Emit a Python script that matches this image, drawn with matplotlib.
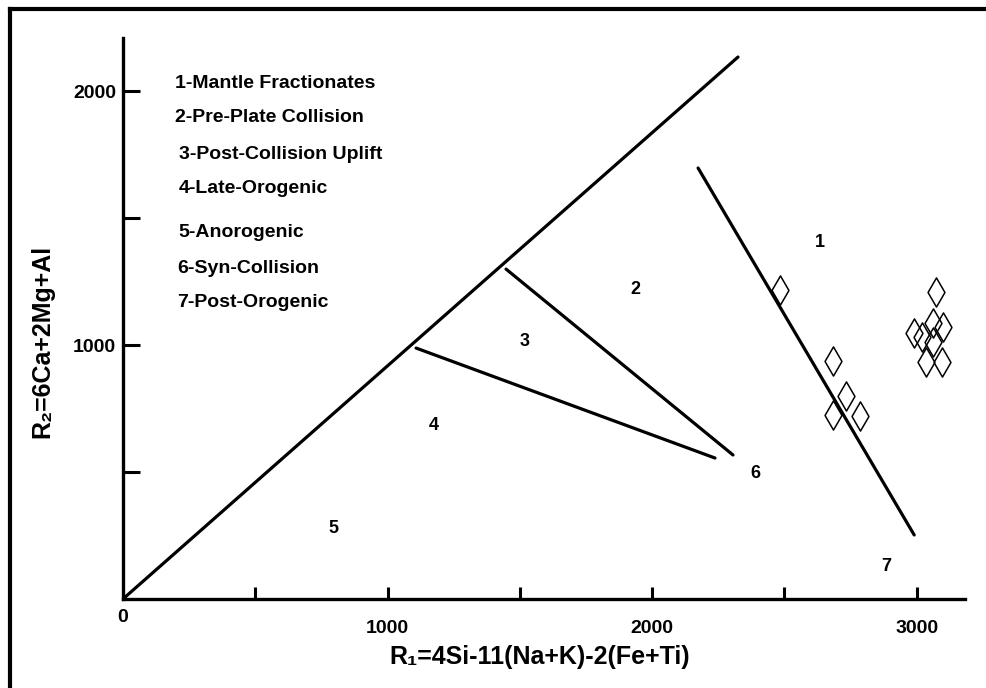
import numpy as np
import matplotlib.pyplot as plt
from matplotlib.lines import Line2D
from matplotlib.path import Path
from matplotlib.ticker import FixedLocator, FuncFormatter

plt.rcParams['font.family'] = ['Liberation Sans', 'DejaVu Sans']
plt.rcParams['font.weight'] = 'bold'

# boundary lines of the R1-R2 diagram (start / end points)
bound_x0 = [0, 1448, 1108, 2174]
bound_y0 = [0, 1299, 988, 1697]
bound_x1 = [2325, 2306, 2238, 2991]
bound_y1 = [2134, 567, 555, 252]

# sample points
r1 = [2484, 2684, 2733, 2684, 2786, 3074, 2991, 3021, 3062, 3100, 3062, 3036, 3096]
r2 = [1217, 937, 799, 724, 720, 1209, 1047, 1031, 1087, 1071, 1012, 933, 933]

# field numbers
field_names = ['1', '2', '3', '4', '5', '6', '7']
field_x = [2635, 1936, 1520, 1176, 794, 2389, 2885]
field_y = [1402, 1217, 1012, 685, 276, 496, 126]

legend_items = ['1-Mantle Fractionates', '2-Pre-Plate Collision', '3-Post-Collision Uplift',
                '4-Late-Orogenic', '5-Anorogenic', '6-Syn-Collision', '7-Post-Orogenic']
legend_y = [2031, 1894, 1752, 1618, 1445, 1303, 1169]
legend_x = [197, 197, 212, 212, 208, 204, 204]

x_ticks = [500, 1000, 1500, 2000, 2500, 3000]
y_ticks = [500, 1000, 1500, 2000]
x_labelled = [1000, 2000, 3000]
y_labelled = [1000, 2000]

fig = plt.figure(figsize=(9.87, 6.88), dpi=100)
ax = fig.add_axes([0.1246, 0.1294, 0.8531, 0.8154])
ax.set_xlim(0, 3183)
ax.set_ylim(0, 2209)

for s in ['top', 'right']:
    ax.spines[s].set_visible(False)
for s in ['left', 'bottom']:
    ax.spines[s].set_linewidth(2.4)

for i in range(len(bound_x0)):
    ax.plot([bound_x0[i], bound_x1[i]], [bound_y0[i], bound_y1[i]], color='black', lw=2.3,
            solid_capstyle='round')

diamond = Path([(0, 1), (0.58, 0), (0, -1), (-0.58, 0), (0, 1)],
               [Path.MOVETO, Path.LINETO, Path.LINETO, Path.LINETO, Path.CLOSEPOLY])
ax.plot(r1, r2, linestyle='none', marker=diamond, markersize=21, markerfacecolor='none',
        markeredgecolor='black', markeredgewidth=1.1)

for name, x, y in zip(field_names, field_x, field_y):
    ax.text(x, y, name, fontsize=13, fontweight='bold', ha='center', va='center')

for txt, x, y in zip(legend_items, legend_x, legend_y):
    ax.text(x, y, txt, fontsize=14, fontweight='bold', ha='left', va='center')

ax.xaxis.set_major_locator(FixedLocator(x_ticks))
ax.yaxis.set_major_locator(FixedLocator(y_ticks))
ax.xaxis.set_major_formatter(FuncFormatter(lambda v, p: '%d' % v if int(v) in x_labelled else ''))
ax.yaxis.set_major_formatter(FuncFormatter(lambda v, p: '%d' % v if int(v) in y_labelled else ''))
ax.tick_params(axis='x', direction='in', length=9, width=2.2, pad=15, labelsize=14)
ax.tick_params(axis='y', direction='in', length=12, width=2.2, pad=5, labelsize=14)
for lab in ax.get_xticklabels() + ax.get_yticklabels():
    lab.set_fontweight('bold')

ax.text(0, -0.033, '0', transform=ax.get_xaxis_transform(), fontsize=14, fontweight='bold',
        ha='center', va='center')

fig.text(540 / 987, 1 - 657 / 688, 'R\u2081=4Si-11(Na+K)-2(Fe+Ti)', fontsize=18, fontweight='bold',
         ha='center', va='center')
fig.text(42 / 987, 1 - 341 / 688, 'R\u2082=6Ca+2Mg+Al', fontsize=18, fontweight='bold',
         ha='center', va='center', rotation=90)

# frame around the figure (top and left edges)
fig.add_artist(Line2D([10 / 987, 10 / 987], [0, 1 - 9 / 688], transform=fig.transFigure,
                      color='black', lw=3))
fig.add_artist(Line2D([10 / 987, 1], [1 - 9 / 688, 1 - 9 / 688], transform=fig.transFigure,
                      color='black', lw=3))

fig.savefig('out.png', dpi=100)
